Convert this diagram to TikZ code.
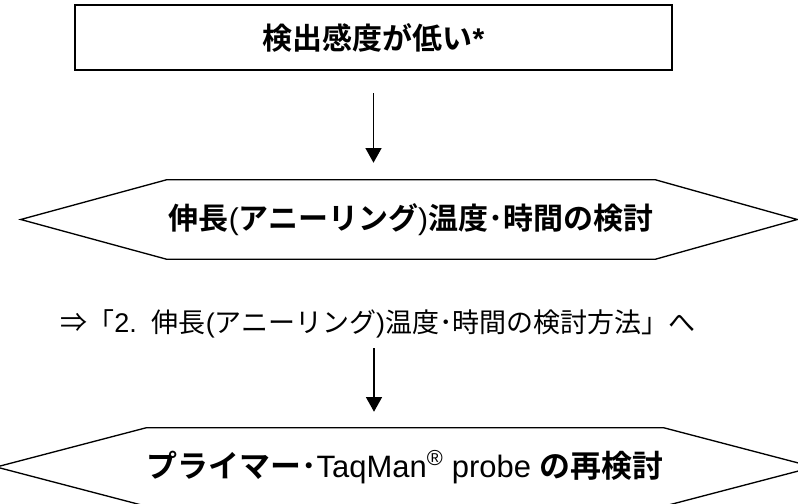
\documentclass[tikz,border=0pt]{standalone}
\usepackage{fontspec}
\setmainfont{Liberation Sans}
\newfontfamily\jp{Noto Sans CJK JP}[BoldFont={* Bold}]
\newcommand{\jpb}{\jp\bfseries}
\usetikzlibrary{arrows.meta}
\tikzset{
  boxtext/.style={inner sep=0pt, font=\fontsize{22.5}{26}\selectfont},
  notetext/.style={inner sep=0pt, font=\fontsize{20.25}{24}\selectfont},
  downarrow/.style={line width=1pt, -{Triangle[width=12pt,length=11pt]}},
  hexline/.style={line width=1pt, line join=miter},
}

\begin{document}
\begin{tikzpicture}[x=0.75pt, y=-0.75pt]
    \useasboundingbox (0,0) rectangle (798,503) ; % Page.0 
\node[draw, line width=1.5pt, boxtext, minimum width=447.75pt, minimum height=48.75pt] (low) at (373.5,37.5) {{\jpb 検出感度が低い}\textbf{*}} ; % Box.0 
\node[boxtext, minimum width=366pt, minimum height=59.25pt] (hexa) at (411,219.5) {{\jpb 伸長}({\jpb アニーリング}){\jpb 温度･時間の検討}} ; % Hex.1 
\draw[hexline] (hexa.north west) -- (hexa.north east) -- ([xshift=106.5pt]hexa.east) -- (hexa.south east) -- (hexa.south west) -- ([xshift=-109.5pt]hexa.west) -- cycle ; % Hex.1 
\node[notetext] (step2) at (378,323.5) {{\jp ⇒「}2.\ \ {\jp 伸長}({\jp アニーリング}){\jp 温度･時間の検討方法」へ}} ; % Note.0 
\coordinate (a2top) at (374,348) ; % Note.0 
\node[boxtext, font=\fontsize{23.2}{26}\selectfont, minimum width=372pt, minimum height=58.5pt] (hexb) at (405,467) {{\jpb プライマー･}TaqMan\textsuperscript{®} probe {\jpb の再検討}} ; % Hex.2 
\draw[hexline] (hexb.north west) -- (hexb.north east) -- ([xshift=112.5pt]hexb.east) -- (hexb.south east) -- (hexb.south west) -- ([xshift=-112.5pt]hexb.west) -- cycle ; % Hex.2 
\draw[downarrow, shorten <=16.5pt, shorten >=12.75pt] (low.south) -- (low.south |- hexa.north) ; % Step.1 
\draw[downarrow, shorten >=12pt] (a2top) -- (a2top |- hexb.north) ; % Step.2 

    \end{tikzpicture}
\end{document}
